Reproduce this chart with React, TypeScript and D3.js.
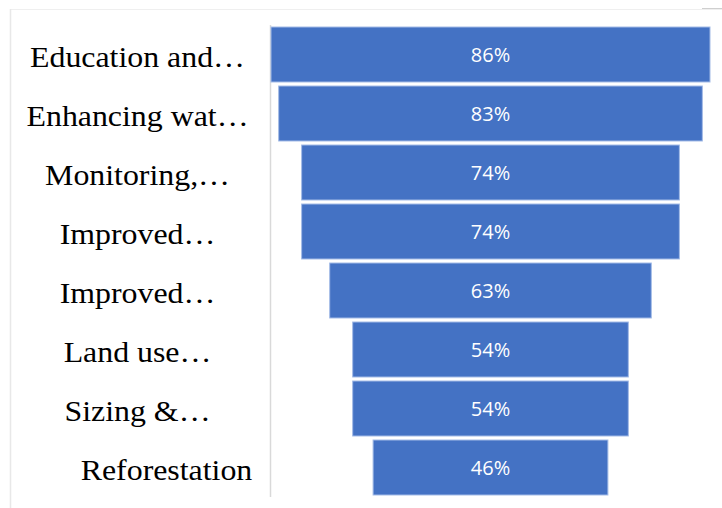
import React from "react";
import * as d3 from "d3";

const categories: string[] = [
  "Education and…",
  "Enhancing wat…",
  "Monitoring,…",
  "Improved…",
  "Improved…",
  "Land use…",
  "Sizing &…",
  "Reforestation",
];
const values: number[] = [86, 83, 74, 74, 63, 54, 54, 46];
const valueLabels: string[] = values.map((v) => `${v}%`);

const W = 722;
const H = 508;
const CX = 490.5;

export default function App() {
  const ids = categories.map((_, i) => String(i));
  const y = d3
    .scaleBand<string>()
    .domain(ids)
    .range([25, 497])
    .paddingInner(0.068)
    .paddingOuter(0.034);
  const hw = d3.scaleLinear().domain([0, 86]).range([0, 219.5]);
  const bw = y.bandwidth();

  return (
    <svg
      width={W}
      height={H}
      style={{ position: "absolute", left: 0, top: 0, background: "#fff" }}
    >
      <line x1={10} y1={9.5} x2={722} y2={9.5} stroke="#efefef" strokeWidth={1} />
      <line x1={702} y1={8.5} x2={722} y2={8.5} stroke="#cfcfcf" strokeWidth={1} />
      <line x1={10.5} y1={9} x2={10.5} y2={508} stroke="#e8e8e8" strokeWidth={1.5} />
      <line x1={270.5} y1={25} x2={270.5} y2={497} stroke="#d9d9d9" strokeWidth={1.5} />
      {values.map((v, i) => {
        const yy = y(String(i)) as number;
        const h = hw(v);
        return (
          <g key={i}>
            <rect
              x={CX - h}
              y={yy}
              width={2 * h}
              height={bw}
              fill="#4472C4"
              stroke="#a3bbe6"
              strokeWidth={1}
            />
            <text
              x={CX}
              y={yy + bw / 2 + 7}
              textAnchor="middle"
              fill="#ffffff"
              fontFamily="'Open Sans', sans-serif"
              fontSize={20}
            >
              {valueLabels[i]}
            </text>
          </g>
        );
      })}
      {categories.map((c, i) => {
        const yy = (y(String(i)) as number) + bw / 2 + 12.5;
        const cx = c.endsWith("…") ? 137.5 : 166.5;
        const sx = 1.08;
        return (
          <text
            key={i}
            transform={`translate(${cx},${yy}) scale(${sx},1)`}
            textAnchor="middle"
            fill="#000"
            fontFamily="'Liberation Serif', 'Times New Roman', serif"
            fontSize={29.5}
          >
            {c}
          </text>
        );
      })}
    </svg>
  );
}
